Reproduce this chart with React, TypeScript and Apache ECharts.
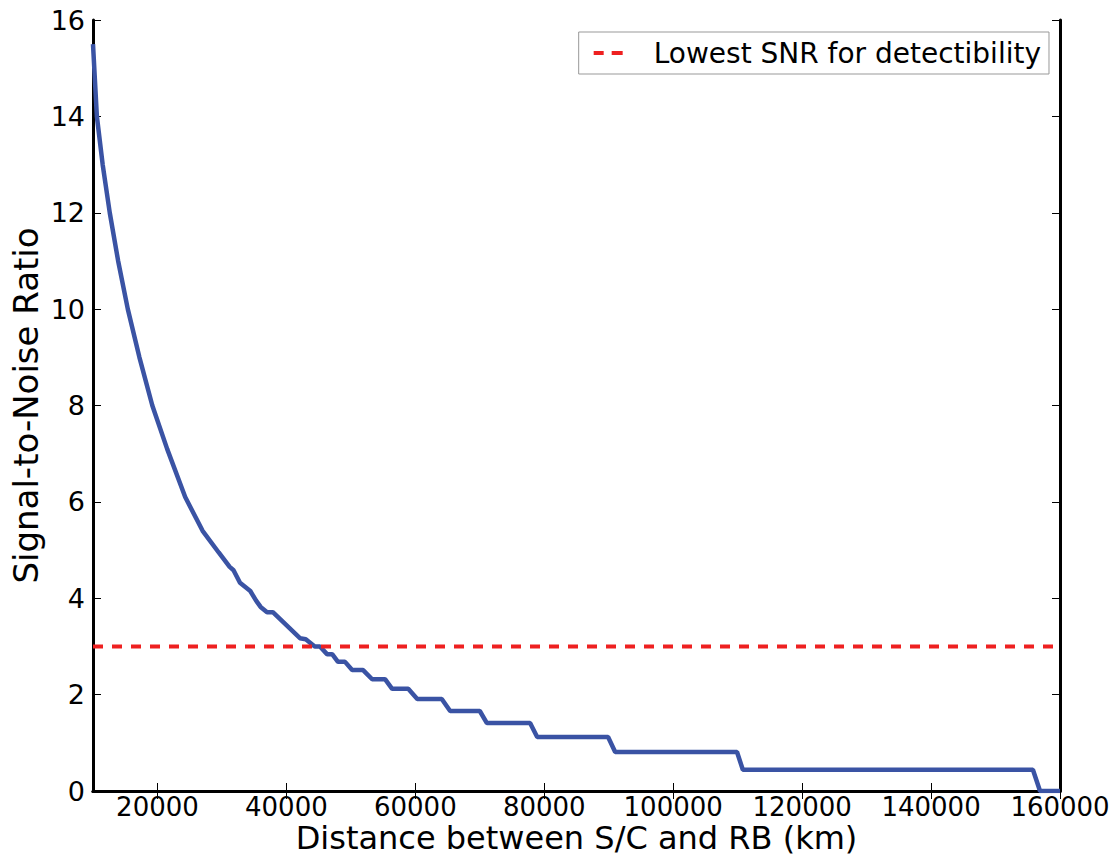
import React, { useEffect, useRef } from "react";
import * as echarts from "echarts";

const distanceKm = [
  10000, 10600, 11500, 12600, 13900, 15400, 17200, 19200, 21500, 24300, 27000, 29500,
  31200, 31800, 32800, 34400, 35300, 36000, 37000, 37900, 42100, 43000, 44400, 45200,
  46300, 47100, 48000, 49100, 50200, 51900, 53300, 55300, 56400, 58900, 60300, 64100,
  65400, 70000, 71100, 77800, 78900, 89900, 91000, 109900, 110800, 155800, 156900, 160000,
];
const snrValues = [
  15.5, 14.0, 13.0, 12.0, 11.0, 10.0, 9.0, 8.0, 7.1, 6.1, 5.4, 4.95,
  4.65, 4.58, 4.32, 4.15, 3.95, 3.82, 3.71, 3.71, 3.17, 3.15, 3.0, 3.0,
  2.84, 2.84, 2.68, 2.68, 2.51, 2.51, 2.32, 2.32, 2.12, 2.12, 1.91, 1.91,
  1.66, 1.66, 1.41, 1.41, 1.12, 1.12, 0.81, 0.81, 0.44, 0.44, 0, 0,
];
const thresholdSNR = 3;
const xTicks = [20000, 40000, 60000, 80000, 100000, 120000, 140000, 160000];
const legendLabel = "Lowest SNR for detectibility";

const FONT = "DejaVu Sans";
const RED = "#ee2020";
const BLUE = "#3a53a4";

export default function App() {
  const ref = useRef<HTMLDivElement>(null);
  useEffect(() => {
    if (!ref.current) return;
    const chart = echarts.init(ref.current, null, { renderer: "svg" });
    const curve = distanceKm.map((d, i) => [d, snrValues[i]]);
    const xMin = 10000, xMax = 160000;
    const frameLine = { show: true, lineStyle: { color: "#000", width: 3 } };
    const tickIn = { show: true, inside: true, length: 8, lineStyle: { color: "#000", width: 1 } };
    chart.setOption({
      animation: false,
      backgroundColor: "#fff",
      textStyle: { fontFamily: FONT },
      grid: {
        left: 93,
        top: 20,
        width: 967,
        height: 771,
        containLabel: false,
        outerBoundsMode: "none",
      },
      legend: {
        data: [{ name: legendLabel, icon: "path://M0,0h10v4h-10z M18,0h11v4h-11z" }],
        right: 70,
        top: 32,
        orient: "vertical",
        backgroundColor: "#fff",
        borderColor: "#999",
        borderWidth: 1,
        borderRadius: 0,
        padding: [7, 8, 7, 15],
        itemWidth: 29,
        itemHeight: 4,
        itemGap: 0,
        itemStyle: { color: RED },
        textStyle: { fontFamily: FONT, fontSize: 28, color: "#000", padding: [0, 0, 0, 26] },
      },
      xAxis: [
        {
          type: "value",
          min: xMin,
          max: xMax,
          position: "bottom",
          name: "Distance between S/C and RB (km)",
          nameLocation: "middle",
          nameGap: 31,
          nameMoveOverlap: false,
          nameTextStyle: { fontFamily: FONT, fontSize: 32, color: "#000", lineHeight: 32 },
          axisLine: frameLine,
          axisTick: { ...tickIn, customValues: xTicks },
          axisLabel: {
            customValues: xTicks,
            formatter: (v: number) => String(v),
            fontFamily: FONT,
            fontSize: 26,
            lineHeight: 24,
            color: "#000",
            margin: 4,
          },
          splitLine: { show: false },
        },
        {
          type: "value",
          min: xMin,
          max: xMax,
          position: "top",
          axisLine: frameLine,
          axisTick: { ...tickIn, customValues: xTicks },
          axisLabel: { show: false },
          splitLine: { show: false },
        },
      ],
      yAxis: [
        {
          type: "value",
          min: 0,
          max: 16,
          interval: 2,
          position: "left",
          name: "Signal-to-Noise Ratio",
          nameLocation: "middle",
          nameGap: 50,
          nameMoveOverlap: false,
          nameTextStyle: { fontFamily: FONT, fontSize: 34, color: "#000" },
          axisLine: frameLine,
          axisTick: tickIn,
          axisLabel: { fontFamily: FONT, fontSize: 27, color: "#000", margin: 8 },
          splitLine: { show: false },
        },
        {
          type: "value",
          min: 0,
          max: 16,
          interval: 2,
          position: "right",
          axisLine: frameLine,
          axisTick: tickIn,
          axisLabel: { show: false },
          splitLine: { show: false },
        },
      ],
      series: [
        {
          type: "line",
          name: "SNR",
          data: curve,
          showSymbol: false,
          symbol: "none",
          clip: true,
          lineStyle: { color: BLUE, width: 4.5 },
          z: 3,
        },
        {
          type: "line",
          name: legendLabel,
          data: [[xMin, thresholdSNR], [xMax, thresholdSNR]],
          showSymbol: false,
          symbol: "none",
          lineStyle: { color: RED, width: 4, type: [10, 9] },
          itemStyle: { color: RED },
          z: 4,
        },
      ],
    });
    return () => chart.dispose();
  }, []);
  return (
    <div
      ref={ref}
      style={{ position: "fixed", left: 0, top: 0, width: 1119, height: 857, background: "#fff" }}
    />
  );
}
